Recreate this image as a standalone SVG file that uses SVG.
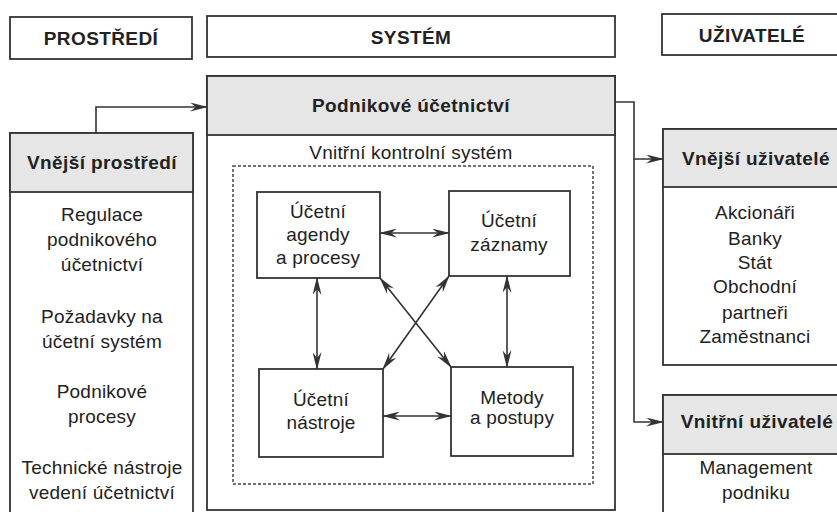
<svg xmlns="http://www.w3.org/2000/svg" width="837" height="512" viewBox="0 0 837 512">
<defs>
<style>
.box{fill:#fff;stroke:#333;stroke-width:1.8}
.hdr{fill:#e6e6e6;stroke:#333;stroke-width:1.8}
.dot{fill:none;stroke:#444;stroke-width:1.5;stroke-dasharray:3 2}
.t{font-family:"Liberation Sans",Arial,sans-serif;font-size:19px;letter-spacing:0.2px;fill:#222;text-anchor:middle}
.b{font-weight:bold;font-size:19px;letter-spacing:0.4px}
.con{fill:none;stroke:#333;stroke-width:1.6}
</style>
<marker id="ah" viewBox="0 0 18 9" refX="17" refY="4.5" markerWidth="18" markerHeight="9" markerUnits="userSpaceOnUse" orient="auto-start-reverse">
<path d="M0,0 L18,4.5 L0,9 L6,4.5 z" fill="#333"/>
</marker>
</defs>
<rect width="837" height="512" fill="#fff"/>

<g id="hdr-prostredi">
<rect class="box" x="10" y="17" width="182" height="42"/>
<text class="t b" x="101" y="45">PROSTŘEDÍ</text>
</g>
<g id="hdr-system">
<rect class="box" x="207" y="16" width="408" height="41"/>
<text class="t b" x="411" y="44">SYSTÉM</text>
</g>
<g id="hdr-uzivatele">
<rect class="box" x="662" y="14" width="190" height="41"/>
<text class="t b" x="752" y="42">UŽIVATELÉ</text>
</g>

<g id="vnejsi-prostredi">
<rect class="box" x="10" y="133" width="183" height="400"/>
<rect class="hdr" x="10" y="133" width="183" height="59"/>
<text class="t b" x="102" y="169">Vnější prostředí</text>
<text class="t" x="102" y="221">Regulace</text>
<text class="t" x="102" y="246">podnikového</text>
<text class="t" x="102" y="271">účetnictví</text>
<text class="t" x="102" y="323">Požadavky na</text>
<text class="t" x="102" y="348">účetní systém</text>
<text class="t" x="102" y="398">Podnikové</text>
<text class="t" x="102" y="423">procesy</text>
<text class="t" x="102" y="474">Technické nástroje</text>
<text class="t" x="102" y="499">vedení účetnictví</text>
</g>

<g id="podnikove-ucetnictvi">
<rect class="box" x="207" y="76" width="408" height="434"/>
<rect class="hdr" x="207" y="76" width="408" height="59"/>
<text class="t b" x="411" y="112">Podnikové účetnictví</text>
<text class="t" x="411" y="159">Vnitřní kontrolní systém</text>
<rect class="dot" x="233" y="166" width="360" height="318"/>
</g>

<g id="agendy">
<rect class="box" x="257" y="192" width="123" height="86"/>
<text class="t" x="318" y="218">Účetní</text>
<text class="t" x="318" y="241">agendy</text>
<text class="t" x="318" y="264">a procesy</text>
</g>
<g id="zaznamy">
<rect class="box" x="449" y="191" width="121" height="85"/>
<text class="t" x="509" y="227">Účetní</text>
<text class="t" x="509" y="251">záznamy</text>
</g>
<g id="nastroje">
<rect class="box" x="259" y="369" width="124" height="88"/>
<text class="t" x="321" y="406">Účetní</text>
<text class="t" x="321" y="429">nástroje</text>
</g>
<g id="metody">
<rect class="box" x="451" y="367" width="122" height="89"/>
<text class="t" x="512" y="404">Metody</text>
<text class="t" x="512" y="424">a postupy</text>
</g>

<g id="vnejsi-uzivatele">
<rect class="box" x="663" y="129" width="190" height="236"/>
<rect class="hdr" x="663" y="129" width="190" height="58"/>
<text class="t b" x="756" y="165">Vnější uživatelé</text>
<text class="t" x="755" y="219">Akcionáři</text>
<text class="t" x="755" y="245">Banky</text>
<text class="t" x="755" y="269">Stát</text>
<text class="t" x="755" y="293">Obchodní</text>
<text class="t" x="755" y="319">partneři</text>
<text class="t" x="755" y="343">Zaměstnanci</text>
</g>

<g id="vnitrni-uzivatele">
<rect class="box" x="663" y="395" width="190" height="140"/>
<rect class="hdr" x="663" y="395" width="190" height="59"/>
<text class="t b" x="757" y="428">Vnitřní uživatelé</text>
<text class="t" x="756" y="474">Management</text>
<text class="t" x="756" y="499">podniku</text>
</g>

<g id="connectors">
<path class="con" d="M96,133 V107 H207" marker-end="url(#ah)"/>
<path class="con" d="M615,102 H634 V159 H663" marker-end="url(#ah)"/>
<path class="con" d="M634,159 V422 H663" marker-end="url(#ah)"/>
<path class="con" d="M380,233 H449" marker-start="url(#ah)" marker-end="url(#ah)"/>
<path class="con" d="M383,416 H451" marker-start="url(#ah)" marker-end="url(#ah)"/>
<path class="con" d="M317,278 V369" marker-start="url(#ah)" marker-end="url(#ah)"/>
<path class="con" d="M507,276 V367" marker-start="url(#ah)" marker-end="url(#ah)"/>
<path class="con" d="M380,278 L451,367" marker-start="url(#ah)" marker-end="url(#ah)"/>
<path class="con" d="M383,369 L449,276" marker-start="url(#ah)" marker-end="url(#ah)"/>
</g>
</svg>
